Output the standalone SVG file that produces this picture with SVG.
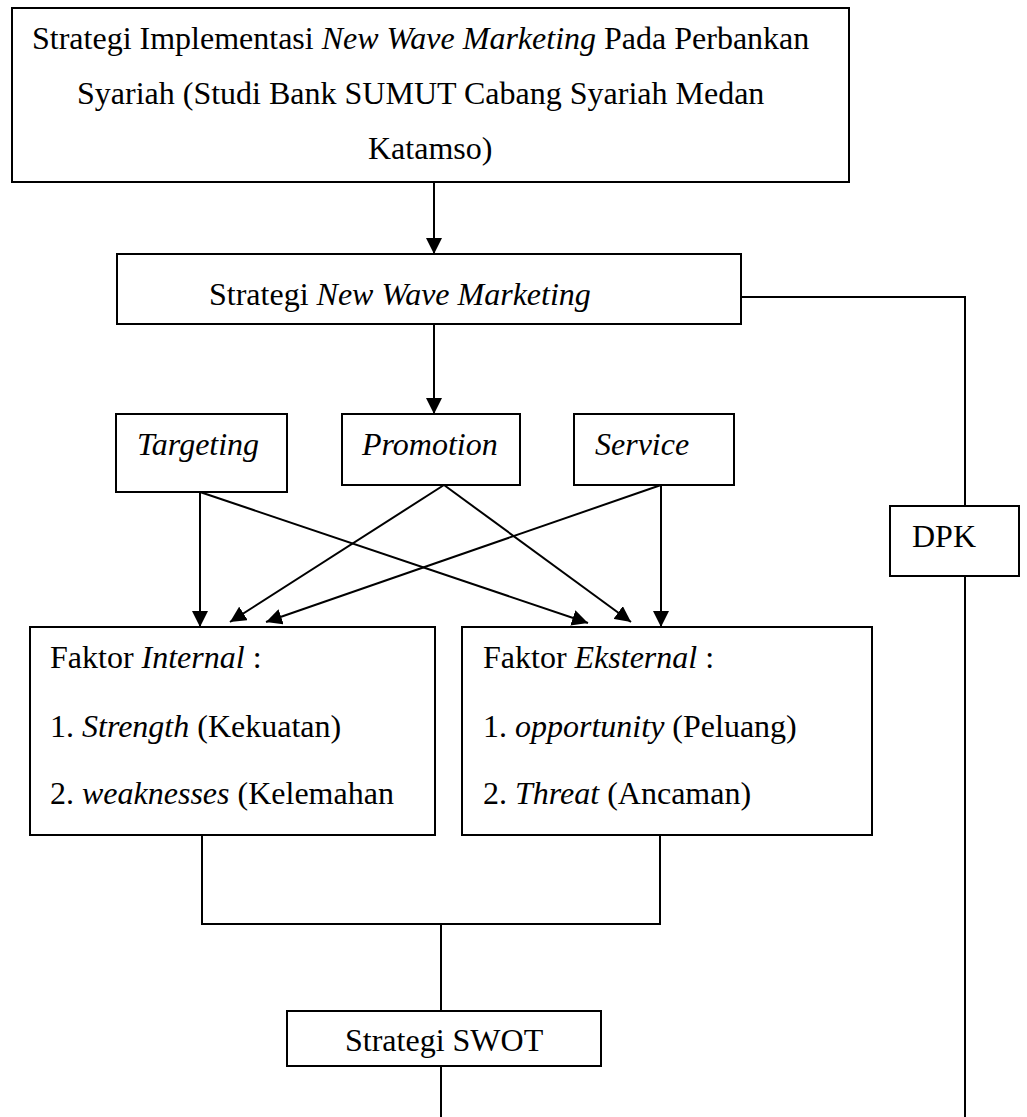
<svg xmlns="http://www.w3.org/2000/svg" width="1027" height="1117" viewBox="0 0 1027 1117">
<style>
.box{fill:#fff;stroke:#000;stroke-width:2}
.ln{fill:none;stroke:#000;stroke-width:2}
text{font-family:"Liberation Serif","Times New Roman",serif;font-size:32px;fill:#000}
.i{font-style:italic}
</style>
<defs>
<marker id="ah" markerWidth="16" markerHeight="16" refX="16" refY="8" orient="auto" markerUnits="userSpaceOnUse">
<path d="M0,0 L16,8 L0,16 z" fill="#000"/>
</marker>
</defs>
<rect width="1027" height="1117" fill="#fff"/>
<g id="connectors">
<line class="ln" x1="434" y1="182" x2="434" y2="254" marker-end="url(#ah)"/>
<line class="ln" x1="434" y1="324" x2="434" y2="414" marker-end="url(#ah)"/>
<line class="ln" x1="200" y1="492" x2="200" y2="627" marker-end="url(#ah)"/>
<line class="ln" x1="200" y1="492" x2="588" y2="623" marker-end="url(#ah)"/>
<line class="ln" x1="444" y1="485" x2="230" y2="622" marker-end="url(#ah)"/>
<line class="ln" x1="444" y1="485" x2="631" y2="622" marker-end="url(#ah)"/>
<line class="ln" x1="661" y1="485" x2="266" y2="622" marker-end="url(#ah)"/>
<line class="ln" x1="661" y1="485" x2="661" y2="627" marker-end="url(#ah)"/>
<polyline class="ln" points="741,297 965,297 965,506"/>
<line class="ln" x1="965" y1="576" x2="965" y2="1117"/>
<polyline class="ln" points="202,835 202,924 660,924 660,835"/>
<line class="ln" x1="441" y1="924" x2="441" y2="1011"/>
<line class="ln" x1="441" y1="1066" x2="441" y2="1117"/>
</g>
<g id="title">
<rect class="box" x="12" y="8" width="837" height="174"/>
<text x="32" y="49">Strategi Implementasi <tspan class="i">New Wave Marketing</tspan> Pada Perbankan</text>
<text x="77" y="104">Syariah (Studi Bank SUMUT Cabang Syariah Medan</text>
<text x="368" y="159">Katamso)</text>
</g>
<g id="strategi-nwm">
<rect class="box" x="117" y="254" width="624" height="70"/>
<text x="209" y="305">Strategi <tspan class="i">New Wave Marketing</tspan></text>
</g>
<g id="targeting">
<rect class="box" x="116" y="414" width="171" height="78"/>
<text class="i" x="137" y="455">Targeting</text>
</g>
<g id="promotion">
<rect class="box" x="342" y="414" width="178" height="71"/>
<text class="i" x="362" y="455">Promotion</text>
</g>
<g id="service">
<rect class="box" x="574" y="414" width="160" height="71"/>
<text class="i" x="595" y="455">Service</text>
</g>
<g id="dpk">
<rect class="box" x="890" y="506" width="129" height="70"/>
<text x="912" y="547">DPK</text>
</g>
<g id="faktor-internal">
<rect class="box" x="30" y="627" width="405" height="208"/>
<text x="50" y="668">Faktor <tspan class="i">Internal</tspan> :</text>
<text x="50" y="737">1. <tspan class="i">Strength</tspan> (Kekuatan)</text>
<text x="50" y="804">2. <tspan class="i">weaknesses</tspan> (Kelemahan</text>
</g>
<g id="faktor-eksternal">
<rect class="box" x="462" y="627" width="410" height="208"/>
<text x="483" y="668">Faktor <tspan class="i">Eksternal</tspan> :</text>
<text x="483" y="737">1. <tspan class="i">opportunity</tspan> (Peluang)</text>
<text x="483" y="804">2. <tspan class="i">Threat</tspan> (Ancaman)</text>
</g>
<g id="swot">
<rect class="box" x="287" y="1011" width="314" height="55"/>
<text x="345" y="1051">Strategi SWOT</text>
</g>
</svg>
